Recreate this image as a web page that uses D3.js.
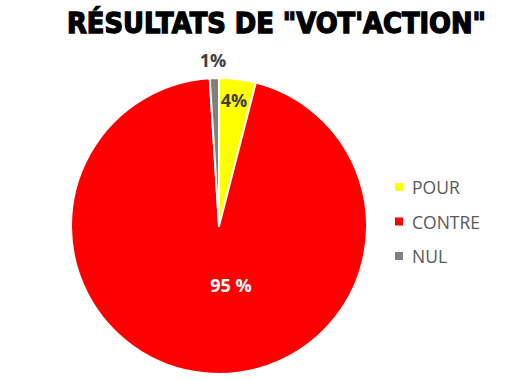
<!DOCTYPE html>
<html><head><meta charset="utf-8">
<script src="https://cdn.jsdelivr.net/npm/d3@7"></script>
<style>body{margin:0;background:#fff}svg{display:block}</style>
</head><body>
<script>
const categories = ["POUR", "CONTRE", "NUL"];
const values = [4, 95, 1];
const labels = ["4%", "95 %", "1%"];
const colors = ["#FFFF00", "#FF0000", "#808080"];

const W = 531, H = 380;
const svg = d3.select("body").append("svg").attr("width", W).attr("height", H);

svg.append("text").attr("x", 67).attr("y", 33)
  .attr("textLength", 419).attr("lengthAdjust", "spacingAndGlyphs")
  .attr("font-family", "DejaVu Sans").attr("font-weight", 900).attr("font-size", 27.5)
  .attr("fill", "#000").attr("stroke", "#000").attr("stroke-width", 1.4)
  .text('RÉSULTATS DE "VOT\'ACTION"');

const cx = 219, cy = 226, r = 148;
const data = categories.map((c, i) => ({c, v: values[i], l: labels[i], col: colors[i]}));
const pie = d3.pie().value(d => d.v).sort(null);
const arcs = pie(data);
const arc = d3.arc().innerRadius(0).outerRadius(r);
const g = svg.append("g").attr("transform", `translate(${cx},${cy})`);
g.selectAll("path").data(arcs).join("path")
  .attr("d", arc).attr("fill", d => d.data.col)
  .attr("stroke", "#fff").attr("stroke-width", 2).attr("stroke-linejoin", "round");

const font = "'Open Sans', 'Liberation Sans', sans-serif";
const labelFill = ["#404040", "#ffffff", "#404040"];
const labelOffset = [[15, -126], [12, 59], [-6, -166]];
g.selectAll("text.lbl").data(arcs).join("text").attr("class", "lbl")
  .attr("transform", (d, i) => `translate(${labelOffset[i][0]},${labelOffset[i][1]})`)
  .attr("text-anchor", "middle").attr("dominant-baseline", "central")
  .attr("font-family", font).attr("font-weight", 700).attr("font-size", 18)
  .attr("fill", (d, i) => labelFill[i])
  .text(d => d.data.l);

const lg = svg.append("g").attr("transform", "translate(395,187)");
const rows = lg.selectAll("g").data(data).join("g").attr("transform", (d, i) => `translate(0,${i * 34.5})`);
rows.append("rect").attr("x", 0).attr("y", -4).attr("width", 8).attr("height", 8).attr("fill", d => d.col);
rows.append("text").attr("x", 17).attr("y", 0).attr("dominant-baseline", "central")
  .attr("font-family", font).attr("font-size", 17.5).attr("fill", "#595959").text(d => d.c);
</script>
</body></html>
